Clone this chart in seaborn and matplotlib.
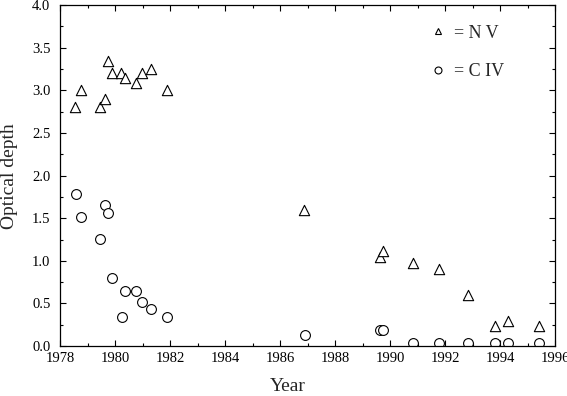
import numpy as np
import pandas as pd
import matplotlib
matplotlib.use("Agg")
import matplotlib.pyplot as plt
from matplotlib.ticker import MultipleLocator, FormatStrFormatter
from matplotlib.lines import Line2D
import seaborn as sns

# Datos
nv_year = [1978.55, 1978.75, 1979.45, 1979.62, 1979.73, 1979.9, 1980.23, 1980.36,
           1980.76, 1980.96, 1981.3, 1981.88, 1986.88, 1989.65, 1989.76, 1990.82,
           1991.78, 1992.84, 1993.83, 1994.28, 1995.4]
nv_depth = [2.80, 3.00, 2.80, 2.90, 3.34, 3.20, 3.20, 3.14,
            3.09, 3.20, 3.25, 3.00, 1.60, 1.04, 1.11, 0.97,
            0.91, 0.60, 0.24, 0.30, 0.24]

civ_year = [1978.58, 1978.75, 1979.45, 1979.62, 1979.73, 1979.9, 1980.24, 1980.35,
            1980.76, 1980.98, 1981.32, 1981.88, 1986.9, 1989.65, 1989.76, 1990.82,
            1991.78, 1992.84, 1993.83, 1994.28, 1995.4]
civ_depth = [1.78, 1.51, 1.26, 1.65, 1.56, 0.80, 0.34, 0.65,
             0.65, 0.52, 0.43, 0.34, 0.13, 0.19, 0.19, 0.04,
             0.04, 0.04, 0.04, 0.04, 0.04]

sns.set_style("ticks")
plt.rcParams['font.family'] = ['Liberation Serif', 'DejaVu Serif']

fig = plt.figure(figsize=(5.67, 3.96), dpi=100)
ax = fig.add_axes([0.106, 0.126, 0.873, 0.861])

sns.scatterplot(x=nv_year, y=nv_depth, ax=ax, marker='^', s=55,
                facecolor='white', edgecolor='black', linewidth=0.8)
sns.scatterplot(x=civ_year, y=civ_depth, ax=ax, marker='o', s=50,
                facecolor='white', edgecolor='black', linewidth=0.8)

ax.set_xlim(1978, 1996)
ax.set_ylim(0, 4.0)
ax.xaxis.set_major_locator(MultipleLocator(2))
ax.xaxis.set_minor_locator(MultipleLocator(1))
ax.yaxis.set_major_locator(MultipleLocator(0.5))
ax.yaxis.set_minor_locator(MultipleLocator(0.25))
ax.yaxis.set_major_formatter(FormatStrFormatter('%.1f'))
ax.tick_params(which='both', direction='in', top=True, right=True,
               labelsize=10.5, width=0.8, colors='black')
ax.tick_params(which='major', length=4)
ax.tick_params(which='minor', length=2)
ax.tick_params(axis='y', pad=7)
ax.tick_params(axis='x', pad=4)
for s in ax.spines.values():
    s.set_linewidth(0.9)
    s.set_color('black')

ax.set_xlabel('Year', fontsize=14)
ax.set_ylabel('Optical depth', fontsize=14)
ax.xaxis.set_label_coords(0.46, -0.095)
ax.yaxis.set_label_coords(-0.085, 0.5)

handles = [Line2D([], [], marker='^', ls='', markersize=5, mfc='white', mec='black', mew=0.8),
           Line2D([], [], marker='o', ls='', markersize=5, mfc='white', mec='black', mew=0.8)]
ax.legend(handles, ['= N V', '= C IV'], loc='upper right', frameon=False,
          fontsize=13, handletextpad=0.4, handlelength=1.0, labelspacing=1.2,
          bbox_to_anchor=(0.93, 0.99))

plt.savefig("out.png", dpi=100)
